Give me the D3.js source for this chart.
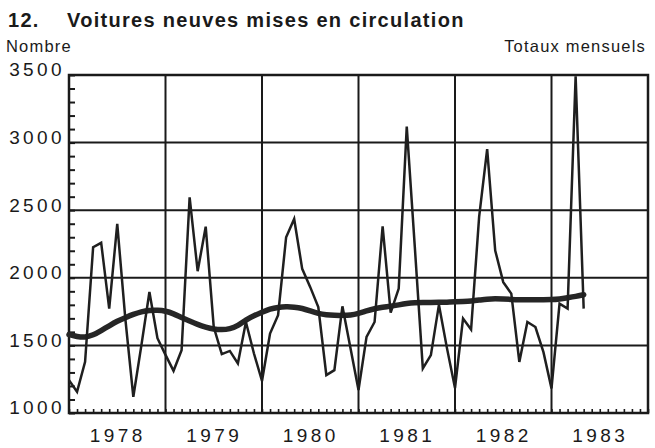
<!DOCTYPE html>
<meta charset="utf-8">
<style>
  html, body { margin: 0; background: #fff; }
  text { font-family: "Liberation Sans", Arial, sans-serif; fill: #1a1a1a; }
  .title { font-weight: bold; font-size: 20px; letter-spacing: 1.3px; }
  .sub { font-size: 16.5px; letter-spacing: 1.2px; }
  .tick text { font-size: 19px; letter-spacing: 3.4px; }
</style>
<body>
<script src="https://cdn.jsdelivr.net/npm/d3@7"></script>
<script>
// monthly totals, January 1978 onwards
var startYear = 1978;
var years = [1978, 1979, 1980, 1981, 1982, 1983];
var yTicks = [1000, 1500, 2000, 2500, 3000, 3500];

var monthly = [
  1243, 1157, 1378, 2226, 2259, 1772, 2399, 1700, 1120, 1500, 1895, 1553,
  1430, 1312, 1464, 2595, 2049, 2378, 1636, 1435, 1459, 1366, 1673, 1440,
  1237, 1588, 1723, 2300, 2435, 2066, 1931, 1784, 1280, 1317, 1789, 1480,
  1170, 1563, 1673, 2381, 1743, 1920, 3118, 2230, 1330, 1428, 1800, 1480,
  1185, 1698, 1617, 2450, 2952, 2202, 1968, 1883, 1378, 1673, 1636, 1450,
  1182, 1809, 1772, 3490, 1772
];

// smoothed trend
var trend = [
  1580, 1565, 1558, 1575, 1610, 1645, 1680, 1705, 1730, 1750, 1760, 1760,
  1755, 1735, 1705, 1680, 1655, 1635, 1620, 1615, 1622, 1645, 1690, 1720,
  1745, 1770, 1782, 1786, 1784, 1775, 1755, 1735, 1725, 1722, 1722, 1723,
  1735, 1755, 1772, 1782, 1790, 1800, 1810, 1816, 1818, 1818, 1818, 1820,
  1822, 1825, 1828, 1835, 1843, 1846, 1843, 1840, 1838, 1838, 1838, 1838,
  1838, 1842, 1852, 1862, 1875
];

var W = 655, H = 448;
var pL = 69, pR = 648, pT = 75, pB = 413;

var svg = d3.select("body").append("svg")
  .attr("width", W)
  .attr("height", H);

var x = d3.scaleLinear().domain([1978, 1984]).range([pL, pR]);
var y = d3.scaleLinear().domain([1000, 3500]).range([pB, pT]);

// titles
var t = svg.append("text").attr("class", "title").attr("y", 27);
t.append("tspan").attr("x", 8).text("12.");
t.append("tspan").attr("x", 67).text("Voitures neuves mises en circulation");

svg.append("text").attr("class", "sub").attr("x", 6).attr("y", 52).text("Nombre");
svg.append("text").attr("class", "sub").attr("x", 646).attr("y", 52)
  .style("text-anchor", "end").text("Totaux mensuels");

// grid
var grid = svg.append("g").attr("stroke", "#1a1a1a").attr("stroke-width", 2);
grid.selectAll(".hg").data(yTicks.slice(1, -1)).enter().append("line")
  .attr("x1", pL).attr("x2", pR)
  .attr("y1", function (d) { return y(d); })
  .attr("y2", function (d) { return y(d); });
grid.selectAll(".vg").data(years.slice(1)).enter().append("line")
  .attr("y1", pT).attr("y2", pB)
  .attr("x1", function (d) { return x(d); })
  .attr("x2", function (d) { return x(d); });

// minor ticks on left (every 100) and bottom (every month)
svg.append("g")
  .attr("transform", "translate(" + pL + ",0)")
  .call(d3.axisLeft(y).tickValues(d3.range(1000, 3501, 100)).tickSize(-6).tickFormat(""))
  .call(function (g) { g.select(".domain").remove(); })
  .selectAll("line").attr("stroke", "#1a1a1a").attr("stroke-width", 2);

svg.append("g")
  .attr("transform", "translate(0," + pB + ")")
  .call(d3.axisBottom(x).tickValues(d3.range(0, 73).map(function (m) { return startYear + m / 12; }))
    .tickSize(-4).tickFormat(""))
  .call(function (g) { g.select(".domain").remove(); })
  .selectAll("line").attr("stroke", "#1a1a1a").attr("stroke-width", 1.6);

// labels
svg.append("g")
  .attr("transform", "translate(" + pL + ",0)")
  .call(d3.axisLeft(y).tickValues(yTicks).tickSize(0).tickPadding(4).tickFormat(d3.format("d")))
  .call(function (g) { g.select(".domain").remove(); })
  .selectAll("text").attr("dy", "0.05em");

svg.append("g")
  .attr("transform", "translate(0," + pB + ")")
  .call(d3.axisBottom(x).tickValues(years.map(function (d) { return d + 0.5; }))
    .tickSize(0).tickPadding(16).tickFormat(function (d) { return d3.format("d")(d - 0.5); }))
  .call(function (g) { g.select(".domain").remove(); })
  .selectAll("text").attr("dx", "0");

// frame
svg.append("rect")
  .attr("x", pL).attr("y", pT)
  .attr("width", pR - pL).attr("height", pB - pT)
  .attr("fill", "none").attr("stroke", "#1a1a1a").attr("stroke-width", 2.5);

// series
var line = d3.line()
  .x(function (d, i) { return x(startYear + i / 12); })
  .y(function (d) { return y(d); });

svg.append("path")
  .datum(trend)
  .attr("fill", "none")
  .attr("stroke", "#262626")
  .attr("stroke-width", 5.5)
  .attr("stroke-linecap", "round")
  .attr("d", line.curve(d3.curveBasis));

svg.append("path")
  .datum(monthly)
  .attr("fill", "none")
  .attr("stroke", "#1f1f1f")
  .attr("stroke-width", 2.5)
  .attr("stroke-linejoin", "miter")
  .attr("d", line.curve(d3.curveLinear));
</script>
</body>
